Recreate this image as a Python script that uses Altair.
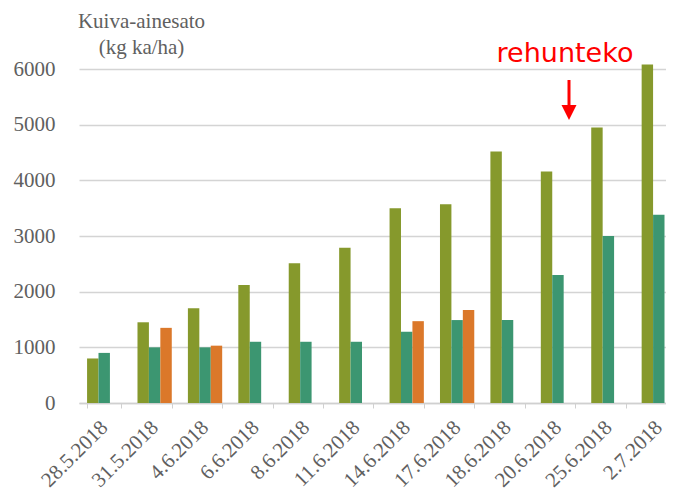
import altair as alt
import pandas as pd

categories = ["28.5.2018", "31.5.2018", "4.6.2018", "6.6.2018", "8.6.2018", "11.6.2018",
              "14.6.2018", "17.6.2018", "18.6.2018", "20.6.2018", "25.6.2018", "2.7.2018"]
series_names = ["Sarja 1", "Sarja 2", "Sarja 3"]
olive = [800, 1450, 1700, 2120, 2510, 2790, 3500, 3570, 4520, 4160, 4950, 6080]
teal = [900, 1000, 1000, 1100, 1100, 1100, 1280, 1490, 1490, 2300, 3000, 3380]
orange = [None, 1350, 1030, None, None, None, 1470, 1670, None, None, None, None]
colors = ["#86992C", "#3C9671", "#DB782A"]
y_ticks = [0, 1000, 2000, 3000, 4000, 5000, 6000]

rows = []
for name, vals in zip(series_names, [olive, teal, orange]):
    for c, v in zip(categories, vals):
        if v is not None:
            rows.append({"pvm": c, "sarja": name, "arvo": v})
df = pd.DataFrame(rows)

serif = "Liberation Serif, DejaVu Serif, serif"
gray = "#606060"

bars = alt.Chart(df).mark_bar().encode(
    x=alt.X("pvm:N", sort=categories, title=None,
            scale=alt.Scale(range=[0, 605], paddingInner=0.32, paddingOuter=0.16),
            axis=alt.Axis(labelAngle=-45, labelAlign="right", labelBaseline="middle",
                          labelFont=serif, labelFontSize=21, labelColor=gray,
                          labelPadding=16, labelOffset=0, tickBand="extent",
                          tickSize=5, tickColor="#d0d0d0", domainColor="#d0d0d0",
                          domainWidth=1.3, grid=False)),
    xOffset=alt.XOffset("sarja:N", sort=series_names),
    y=alt.Y("arvo:Q", scale=alt.Scale(domain=[0, 6000], nice=False),
            axis=alt.Axis(values=y_ticks, format="d",
                          title=["Kuiva-ainesato", "(kg ka/ha)"],
                          titleAngle=0, titleAlign="center", titleBaseline="alphabetic",
                          titleX=62, titleY=-42, titleLineHeight=26,
                          titleFont=serif, titleFontSize=21, titleFontWeight="normal",
                          titleColor=gray,
                          labelFont=serif, labelFontSize=21, labelColor=gray,
                          labelPadding=24, domain=False, ticks=False,
                          grid=True, gridColor="#d4d4d4", gridWidth=1.3)),
    color=alt.Color("sarja:N", sort=series_names,
                    scale=alt.Scale(domain=series_names, range=colors), legend=None),
)

label = alt.Chart(pd.DataFrame({"t": ["rehunteko"]})).mark_text(
    font="DejaVu Sans", fontSize=27, color="#FF0000", align="center", baseline="alphabetic"
).encode(text="t:N", x=alt.value(486), y=alt.value(-7))

arrow_line = alt.Chart(pd.DataFrame({"a": [0]})).mark_rule(
    color="#FF0000", strokeWidth=3
).encode(x=alt.value(490), y=alt.value(11), y2=alt.value(38))

arrow_head = alt.Chart(pd.DataFrame({"a": [0]})).mark_point(
    shape="M-1,-1L1,-1L0,1Z", filled=True, color="#FF0000", opacity=1, size=225
).encode(x=alt.value(490), y=alt.value(43.5))

chart = alt.layer(bars, label, arrow_line, arrow_head).properties(
    width=587, height=334,
    autosize=alt.AutoSizeParams(type="none"),
    padding={"left": 71, "top": 61, "right": 0, "bottom": 91},
).configure_view(stroke=None)

chart.save("out.html", embed_options={"renderer": "svg", "actions": False})
